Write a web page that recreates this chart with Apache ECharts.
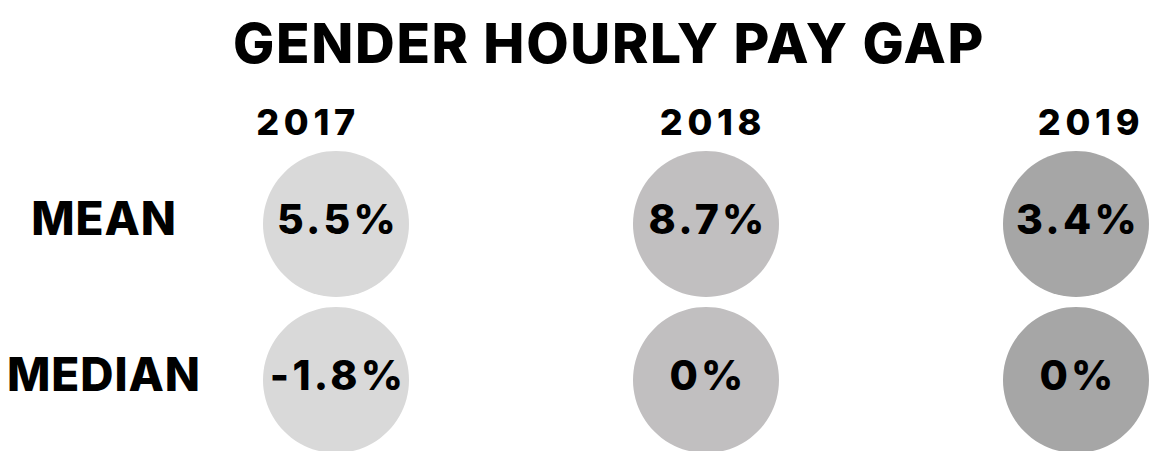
<!DOCTYPE html>
<html>
<head>
<meta charset="utf-8">
<title>Gender hourly pay gap</title>
<script src="https://cdn.jsdelivr.net/npm/echarts@6/dist/echarts.min.js"></script>
<style>
  html, body { margin: 0; padding: 0; background: #fff; }
  #chart { width: 1153px; height: 451px; }
  /* wide tracking like the original poster font, per text size */
  #chart text[style*="55px"] { letter-spacing: 0.03em; }
  #chart text[style*="36px"] { letter-spacing: 0.13em; }
  #chart text[style*="41px"] { letter-spacing: 0.08em; }
  #chart text[style*="46px"] { letter-spacing: 0.02em; }
</style>
</head>
<body>
<div id="chart"></div>
<script>
// data
const years = ['2017', '2018', '2019'];
const measures = ['MEAN', 'MEDIAN'];
const meanGap = [5.5, 8.7, 3.4];     // %
const medianGap = [-1.8, 0, 0];      // %

const yearColors = ['#d9d9d9', '#c1bfc0', '#a6a6a6'];
const font = 'Inter';
const weight = 800;

// one circle per (year, measure)
const points = [];
years.forEach((y, i) => {
  points.push({ value: [i, 0, meanGap[i]], itemStyle: { color: yearColors[i] } });
  points.push({ value: [i, 1, medianGap[i]], itemStyle: { color: yearColors[i] } });
});

const chart = echarts.init(document.getElementById('chart'), null, { renderer: 'svg' });

const yearStyle = (pad) => ({ fontFamily: font, fontWeight: weight, fontSize: 36, color: '#000', padding: pad });

const option = {
  backgroundColor: '#fff',
  animation: false,
  textStyle: { fontFamily: font },
  title: {
    text: 'GENDER HOURLY PAY GAP',
    left: 228,
    top: 10,
    textStyle: { fontFamily: font, fontWeight: weight, fontSize: 55, color: '#000' }
  },
  grid: { left: 336, right: 77, top: 224, bottom: 71 },
  xAxis: {
    type: 'category',
    data: years,
    position: 'top',
    boundaryGap: false,
    axisLine: { show: false },
    axisTick: { show: false },
    splitLine: { show: false },
    axisLabel: {
      margin: 102,
      verticalAlign: 'middle',
      formatter: (v, i) => '{y' + i + '|' + v + '}',
      rich: {
        y0: yearStyle([0, 56, 0, 0]),
        y1: yearStyle([0, 0, 0, 14]),
        y2: yearStyle([0, 0, 0, 30])
      }
    }
  },
  yAxis: {
    type: 'category',
    data: measures,
    inverse: true,
    boundaryGap: false,
    axisLine: { show: false },
    axisTick: { show: false },
    splitLine: { show: false },
    axisLabel: {
      margin: 232,
      align: 'center',
      verticalAlign: 'middle',
      formatter: v => '{m|' + v + '}',
      rich: {
        m: { fontFamily: font, fontWeight: weight, fontSize: 46, color: '#000', padding: [0, 0, 12, 0] }
      }
    }
  },
  series: [{
    type: 'scatter',
    symbol: 'circle',
    symbolSize: 146,
    itemStyle: { opacity: 1 },
    data: points,
    label: {
      show: true,
      position: 'inside',
      offset: [2, -5],
      formatter: p => p.value[2] + '%',
      fontFamily: font,
      fontWeight: weight,
      fontSize: 41,
      color: '#000'
    },
    emphasis: { disabled: true }
  }]
};

chart.setOption(option);
</script>
</body>
</html>
